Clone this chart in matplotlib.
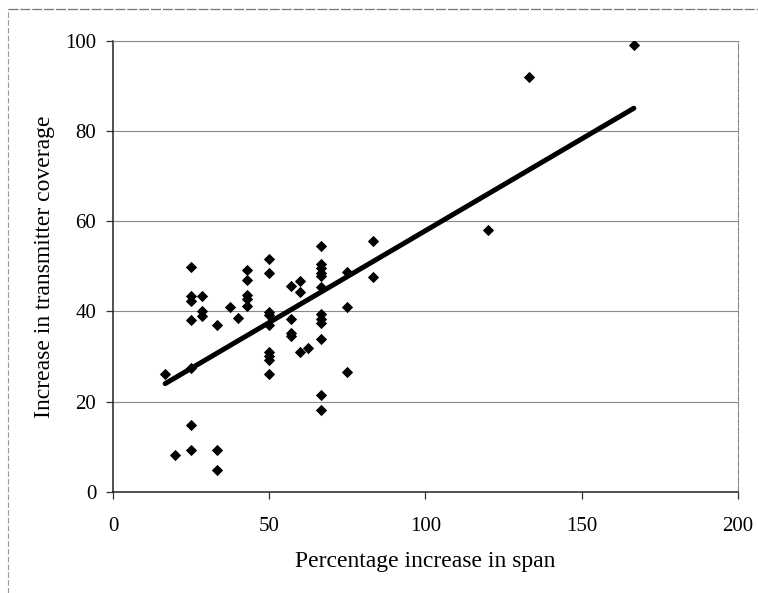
import matplotlib
matplotlib.use("Agg")
import matplotlib.pyplot as plt
from matplotlib.lines import Line2D

# Percentage increase in span vs. increase in transmitter coverage
span_increase = [
    16.7,
    20,
    25, 25, 25, 25, 25, 25, 25,
    28.6, 28.6, 28.6,
    33.3, 33.3, 33.3,
    37.5,
    40,
    42.9, 42.9, 42.9, 42.9, 42.9,
    50, 50, 50, 50, 50, 50, 50, 50, 50,
    57.1, 57.1, 57.1, 57.1,
    60, 60, 60,
    62.5,
    66.7, 66.7, 66.7, 66.7, 66.7, 66.7, 66.7, 66.7, 66.7, 66.7, 66.7, 66.7,
    75, 75, 75,
    83.3, 83.3,
    120,
    133.3,
    166.7,
]
coverage_increase = [
    26.2,
    8.1,
    49.9, 43.5, 42.4, 38.1, 27.4, 14.9, 9.4,
    43.5, 40.0, 38.9,
    37.0, 9.3, 4.8,
    41.0,
    38.5,
    49.2, 47.0, 43.7, 42.7, 41.2,
    51.6, 48.5, 39.8, 39.1, 37.0, 31.1, 30.2, 29.3, 26.2,
    45.7, 38.3, 35.3, 34.6,
    46.8, 44.3, 31.1,
    31.9,
    54.4, 50.5, 49.6, 48.6, 47.8, 45.5, 39.5, 38.4, 37.4, 33.9, 21.4, 18.2,
    48.7, 41.0, 26.6,
    55.5, 47.7,
    58.1,
    92.0,
    99.0,
]

# Fitted trend line endpoints
trend_x = [16.7, 166.7]
trend_y = [24.0, 85.0]

x_ticks = [0, 50, 100, 150, 200]
y_ticks = [0, 20, 40, 60, 80, 100]

plt.rcParams["font.family"] = ["Liberation Serif", "DejaVu Serif"]

fig = plt.figure(figsize=(7.58, 5.93), dpi=100)
ax = fig.add_axes([0.149, 0.1703, 0.8245, 0.7614])

for yv in y_ticks[1:]:
    ax.axhline(yv, color="#8a8a8a", lw=0.8, zorder=1)

ax.scatter(span_increase, coverage_increase, marker="D", s=33,
           color="black", linewidths=0, zorder=3)
ax.plot(trend_x, trend_y, color="black", lw=3.6, solid_capstyle="round", zorder=4)

ax.set_xlim(0, 200)
ax.set_ylim(0, 100)
ax.set_xticks(x_ticks)
ax.set_yticks(y_ticks)

ax.tick_params(axis="both", direction="out", length=5, width=0.9,
               color="#333333", labelsize=15)
ax.tick_params(axis="x", pad=13)
ax.tick_params(axis="y", pad=7)

for side in ("left", "bottom"):
    ax.spines[side].set_color("#222222")
    ax.spines[side].set_linewidth(1.1)
for side in ("top", "right"):
    ax.spines[side].set_color("#8a8a8a")
    ax.spines[side].set_linewidth(0.8)
    ax.spines[side].set_linestyle((0, (6, 1.5)))

ax.set_xlabel("Percentage increase in span", fontsize=17, labelpad=11)
ax.set_ylabel("Increase in transmitter coverage", fontsize=17, labelpad=7)

# Outer frame (top and left edges)
fig.add_artist(Line2D([8 / 758, 1.0], [1 - 9 / 593, 1 - 9 / 593],
                      transform=fig.transFigure, color="#777777", lw=0.9,
                      linestyle=(0, (8, 1.5))))
fig.add_artist(Line2D([8 / 758, 8 / 758], [0.0, 1 - 9 / 593],
                      transform=fig.transFigure, color="#999999", lw=0.8,
                      linestyle=(0, (5, 2))))

fig.savefig("out.png", dpi=100)
